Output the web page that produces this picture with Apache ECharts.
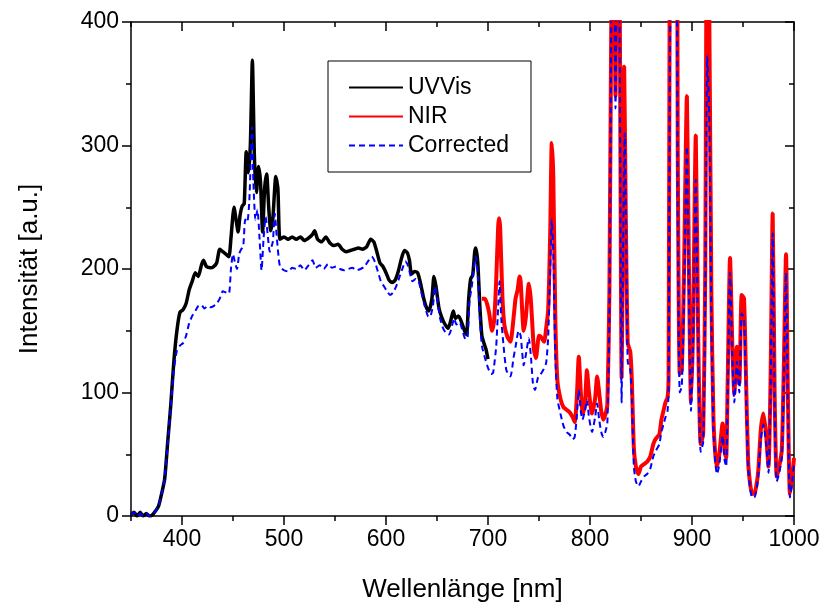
<!DOCTYPE html>
<html>
<head>
<meta charset="utf-8">
<script src="https://cdn.jsdelivr.net/npm/echarts@6/dist/echarts.min.js"></script>
<style>html,body{margin:0;padding:0;background:#fff}#c{width:824px;height:608px}</style>
</head>
<body>
<div id="c"></div>
<script>
const xMajorTicks = [400, 500, 600, 700, 800, 900, 1000];
const yMajorTicks = [0, 100, 200, 300, 400];

const uvvisWl = [350,353,356,359,362,365,368,371,374,377,380,383,386,389,392,395,398,401,404,407,410,413,416,419,421,424,428,431,434,437,440,443,446,448,451,453,455,457,459,461,463,465,467,469,471,473,475,477,479,481,483,485,487,489,492,494,496,500,504,508,512,516,520,524,528,530,533,537,541,545,549,553,557,561,565,569,573,577,581,585,588,591,594,597,600,603,606,609,612,615,618,621,623,625,628,631,634,637,640,642,645,647,649,652,655,658,661,664,666,668,671,674,677,679,681,683,685,687,688,690,692,694,696,698,700];
const uvvisVal = [1,3,0,3,0,2,0,1,4,8,18,30,60,90,125,150,165,167,172,183,190,197,194,203,207,202,201,202,205,216,214,212,210,225,250,240,230,244,251,253,295,278,300,369,290,262,283,270,230,265,277,250,231,240,275,265,224,226,224,226,224,226,223,225,228,231,224,222,226,221,219,220,216,214,215,216,217,216,218,224,222,214,205,202,197,191,189,191,198,208,215,213,207,196,198,197,188,176,168,166,176,194,186,168,160,155,152,160,166,160,162,157,150,147,175,192,195,214,217,205,170,146,140,135,127];

const nirWl = [694,697,699,701,704,706,708,710,711,712,714,716,719,722,725,727,729,731,732,735,737,740,742,745,747,750,752,755,757,759,761,762.5,764,766,768,771,774,777,780,783,785,787,789,791,793,795,797,799,802,805,807,809,811,813,815,817,819,821,823,825,827,829,831,832,833.5,835,837,839.5,841,843,845,847.5,850,853,856,859,862,864,866,868,870,872,874,876,877,879,881,883,885,886,888,890,892,895,897,899,901,903.7,906,908.5,911,913,915,917,919,921,923,924.5,926.8,930,932,933.5,935,937.3,939.5,941.5,944,946.4,948.7,951,953,955,957,959,961,963,965,967.5,970,972.5,975,977,979.1,981,983,985,988,990,992.2,994,996,998,1000];
const nirVal = [176,176,172,165,150,158,190,235,241,232,180,155,145,141,160,176,183,194,190,150,160,188,175,135,128,146,145,141,152,167,230,302,275,160,110,95,88,86,84,80,76,95,129,100,83,90,118,100,83,95,113,100,85,78,82,90,180,420,560,340,560,440,112,200,364,250,140,133,110,55,40,34,40,42,44,48,58,62,64,66,78,85,92,96,110,560,540,560,560,300,115,118,190,340,200,92,150,308,150,58,67,200,560,400,180,80,48,40,50,75,52,47,110,209,140,99,137,107,179,176,110,45,26,18,18,24,37,70,83,67,40,110,245,100,32,38,53,120,212,100,18,30,47];

const corrWl = [350,353,356,359,362,365,368,371,374,377,380,383,386,389,392,395,398,401,404,407,410,413,416,419,422,425,428,431,434,437,440,443,446,448,450,452,454,456,458,460,462,464,466,468.7,470,472,474,476,478,480,482,484,486,489,491,493,496,500,504,508,512,516,520,524,528,531,535,539,543,547,551,555,559,563,567,571,575,579,583,586,589,592,595,598,601,604,607,610,613,616,619,621,623,626,629,632,635,638,641,643,646,648,650,653,656,659,662,665,667,669,672,675,678,680,682,684,686,688,690,692,694,697,700,703,705,708,710,711.3,713,715,718,722,725,727,730,732,735,737,740,742,744,746,749,751,754,757,759,761,762.5,764,766,768,771,774,777,780,783,785,787,789,791,792.5,795,797,799,802,805,807,809,811,813,815,817,819,821,823,825,827,829,831,832,834,835.5,837,839.5,841,843,845,847.5,850,853,856,859,862,864,866,868,870,872,874,876,877,879,881,883,885,886,888,890,892,895,897,899,901,903.7,906,908.5,911,913,915,917,919,921,923,924.5,926.8,930,932,933.5,935,937.3,939.5,941.5,944,946.4,948.7,951,953,955,957,959,961,963,965,967.5,970,972.5,975,977,979.1,981,983,985,988,990,992.2,994,996,998,1000];
const corrVal = [1,3,0,2,0,2,0,1,4,8,18,30,58,88,118,134,138,140,146,156,162,166,170,171,168,170,169,170,172,176,182,181,180,200,212,205,200,212,216,218,240,238,255,315,270,240,248,225,199,225,242,228,214,222,245,225,202,199,198,201,200,203,199,203,207,201,203,200,204,201,202,200,199,200,201,199,200,202,207,210,206,198,190,186,182,179,181,186,193,200,206,204,198,190,192,190,180,170,162,161,170,186,178,160,152,148,147,155,160,155,157,150,143,145,175,185,200,210,195,160,138,128,120,115,116,137,170,190,160,140,118,113,128,137,150,146,122,130,144,130,108,102,112,114,118,124,145,200,240,215,130,95,83,73,68,66,62,64,80,102,85,78,85,94,80,68,80,91,78,68,64,68,75,160,420,560,330,560,400,92,180,310,220,125,118,95,40,28,24,28,32,34,38,48,52,55,58,68,74,80,85,100,420,410,430,430,250,100,105,170,299,180,85,140,272,140,52,60,180,372,320,160,70,42,34,42,65,45,40,100,197,130,92,125,100,164,160,100,40,22,15,15,20,33,62,74,60,35,100,229,90,28,33,47,110,197,90,15,26,42];

function pairs(xs, ys) { return xs.map((x, i) => [x, ys[i]]); }

const chart = echarts.init(document.getElementById('c'), null, {renderer: 'canvas'});
const FONT = 'Liberation Sans, Arial, sans-serif';
const axisLineStyle = {color: '#000', width: 1.5};
const baseX = {type: 'value', min: 350, max: 1000, gridIndex: 0, splitLine: {show: false}};
const baseY = {type: 'value', min: 0, max: 400, gridIndex: 0, splitLine: {show: false}};
const plain = v => String(v);

chart.setOption({
  animation: false,
  backgroundColor: '#fff',
  grid: {left: 131, right: 30, top: 22, bottom: 92, containLabel: false},
  legend: {
    orient: 'vertical', left: 328, top: 61,
    data: ['UVVis', 'NIR', 'Corrected'],
    borderColor: '#000', borderWidth: 1, padding: [15, 22, 15, 20],
    itemWidth: 54, itemHeight: 14, itemGap: 6,
    itemStyle: {opacity: 0},
    textStyle: {fontSize: 23, color: '#000', fontFamily: FONT}
  },
  xAxis: [
    Object.assign({}, baseX, {
      position: 'bottom',
      axisLine: {show: true, lineStyle: axisLineStyle},
      axisTick: {show: true, inside: false, length: 9, customValues: xMajorTicks, lineStyle: {color: '#000', width: 1.5}},
      axisLabel: {show: true, customValues: xMajorTicks, formatter: plain, fontSize: 23, color: '#000', fontFamily: FONT, margin: 12},
      name: 'Wellenlänge [nm]', nameLocation: 'middle', nameGap: 61,
      nameTextStyle: {fontSize: 26, color: '#000', fontFamily: FONT}
    }),
    Object.assign({}, baseX, {
      position: 'bottom', interval: 50,
      axisLine: {show: false},
      axisTick: {show: true, inside: false, length: 5, lineStyle: {color: '#000', width: 1.5}},
      axisLabel: {show: false}
    }),
    Object.assign({}, baseX, {
      position: 'top', interval: 50,
      axisLine: {show: true, lineStyle: axisLineStyle},
      axisTick: {show: true, inside: true, length: 5, lineStyle: {color: '#000', width: 1.5}},
      axisLabel: {show: false}
    }),
    Object.assign({}, baseX, {
      position: 'top',
      axisLine: {show: false},
      axisTick: {show: true, inside: true, length: 9, customValues: xMajorTicks, lineStyle: {color: '#000', width: 1.5}},
      axisLabel: {show: false}
    })
  ],
  yAxis: [
    Object.assign({}, baseY, {
      position: 'left', interval: 100,
      axisLine: {show: true, lineStyle: axisLineStyle},
      axisTick: {show: true, inside: false, length: 9, lineStyle: {color: '#000', width: 1.5}},
      minorTick: {show: true, splitNumber: 2, length: 5, lineStyle: {color: '#000', width: 1.5}},
      axisLabel: {show: true, formatter: plain, fontSize: 23, color: '#000', fontFamily: FONT, margin: 12},
      name: 'Intensität [a.u.]', nameLocation: 'middle', nameGap: 88,
      nameTextStyle: {fontSize: 26, color: '#000', fontFamily: FONT}
    }),
    Object.assign({}, baseY, {
      position: 'right', interval: 100,
      axisLine: {show: true, lineStyle: axisLineStyle},
      axisTick: {show: true, inside: true, length: 9, lineStyle: {color: '#000', width: 1.5}},
      minorTick: {show: true, splitNumber: 2, length: 5, lineStyle: {color: '#000', width: 1.5}},
      axisLabel: {show: false}
    })
  ],
  series: [
    {name: 'UVVis', type: 'line', xAxisIndex: 0, yAxisIndex: 0, data: pairs(uvvisWl, uvvisVal),
     symbol: 'none', smooth: 0.2, clip: true, lineStyle: {color: '#000', width: 3.5}, itemStyle: {color: '#000'}},
    {name: 'NIR', type: 'line', xAxisIndex: 0, yAxisIndex: 0, data: pairs(nirWl, nirVal),
     symbol: 'none', smooth: 0.2, clip: true, lineStyle: {color: '#ff0000', width: 4}, itemStyle: {color: '#ff0000'}},
    {name: 'Corrected', type: 'line', xAxisIndex: 0, yAxisIndex: 0, data: pairs(corrWl, corrVal),
     symbol: 'none', smooth: 0.2, clip: true, lineStyle: {color: '#0000ff', width: 2, type: [6, 4]}, itemStyle: {color: '#0000ff'}}
  ]
});
</script>
</body>
</html>
